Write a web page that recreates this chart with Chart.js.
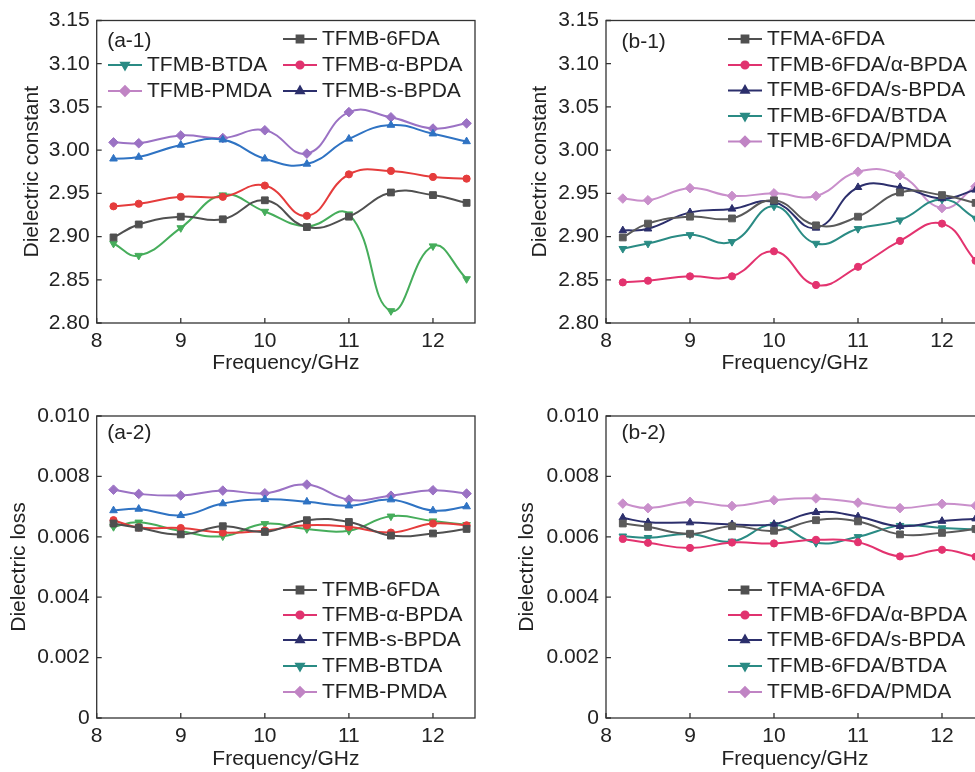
<!DOCTYPE html>
<html>
<head>
<meta charset="utf-8">
<script src="https://cdn.jsdelivr.net/npm/chart.js@4.4.1/dist/chart.umd.min.js"></script>
<style>
  html, body { margin: 0; padding: 0; background: #fff; overflow: hidden; width: 975px; height: 772px; }
  canvas { position: absolute; }
</style>
</head>
<body>
<canvas id="a1" width="490" height="376" style="left:0;top:0"></canvas>
<canvas id="b1" width="490" height="376" style="left:510px;top:0"></canvas>
<canvas id="a2" width="490" height="377" style="left:0;top:395px"></canvas>
<canvas id="b2" width="490" height="377" style="left:510px;top:395px"></canvas>
<script>
// frequency points (GHz) and axis ticks
const freq = [8.2, 8.5, 9, 9.5, 10, 10.5, 11, 11.5, 12, 12.4];
const xTicks = [8, 9, 10, 11, 12];
const constTicks = [2.80, 2.85, 2.90, 2.95, 3.00, 3.05, 3.10, 3.15];
const lossTicks = [0, 0.002, 0.004, 0.006, 0.008, 0.010];

const namesA = ['TFMB-6FDA', 'TFMB-α-BPDA', 'TFMB-s-BPDA', 'TFMB-BTDA', 'TFMB-PMDA'];
const namesB = ['TFMA-6FDA', 'TFMB-6FDA/α-BPDA', 'TFMB-6FDA/s-BPDA', 'TFMB-6FDA/BTDA', 'TFMB-6FDA/PMDA'];

// dielectric constant
const a1_6FDA  = [2.899, 2.914, 2.923, 2.920, 2.942, 2.911, 2.923, 2.951, 2.948, 2.939];
const a1_aBPDA = [2.935, 2.938, 2.946, 2.946, 2.959, 2.924, 2.972, 2.976, 2.969, 2.967];
const a1_sBPDA = [2.990, 2.992, 3.006, 3.012, 2.990, 2.984, 3.013, 3.029, 3.019, 3.010];
const a1_BTDA  = [2.892, 2.878, 2.910, 2.948, 2.929, 2.912, 2.926, 2.814, 2.889, 2.851];
const a1_PMDA  = [3.009, 3.008, 3.017, 3.014, 3.023, 2.996, 3.044, 3.038, 3.025, 3.031];

const b1_6FDA  = [2.899, 2.915, 2.923, 2.921, 2.942, 2.913, 2.923, 2.951, 2.948, 2.939];
const b1_aBPDA = [2.847, 2.849, 2.854, 2.854, 2.883, 2.844, 2.865, 2.895, 2.915, 2.872];
const b1_sBPDA = [2.907, 2.909, 2.928, 2.932, 2.940, 2.910, 2.957, 2.957, 2.944, 2.954];
const b1_BTDA  = [2.886, 2.892, 2.902, 2.894, 2.935, 2.892, 2.909, 2.919, 2.943, 2.921];
const b1_PMDA  = [2.944, 2.942, 2.956, 2.947, 2.950, 2.947, 2.975, 2.971, 2.933, 2.958];

// dielectric loss
const a2_6FDA  = [0.00644, 0.00630, 0.00608, 0.00635, 0.00616, 0.00655, 0.00649, 0.00604, 0.00611, 0.00626];
const a2_aBPDA = [0.00655, 0.00631, 0.00629, 0.00614, 0.00621, 0.00638, 0.00633, 0.00614, 0.00644, 0.00638];
const a2_sBPDA = [0.00687, 0.00692, 0.00671, 0.00710, 0.00724, 0.00716, 0.00703, 0.00723, 0.00687, 0.00700];
const a2_BTDA  = [0.00633, 0.00648, 0.00619, 0.00602, 0.00643, 0.00626, 0.00620, 0.00668, 0.00652, 0.00640];
const a2_PMDA  = [0.00756, 0.00742, 0.00737, 0.00753, 0.00744, 0.00773, 0.00723, 0.00736, 0.00754, 0.00743];

const b2_6FDA  = [0.00644, 0.00633, 0.00610, 0.00635, 0.00620, 0.00655, 0.00651, 0.00608, 0.00613, 0.00626];
const b2_aBPDA = [0.00593, 0.00580, 0.00563, 0.00581, 0.00578, 0.00590, 0.00582, 0.00535, 0.00557, 0.00534];
const b2_sBPDA = [0.00663, 0.00648, 0.00647, 0.00641, 0.00642, 0.00681, 0.00667, 0.00635, 0.00652, 0.00660];
const b2_BTDA  = [0.00602, 0.00597, 0.00609, 0.00585, 0.00640, 0.00580, 0.00600, 0.00637, 0.00629, 0.00624];
const b2_PMDA  = [0.00710, 0.00695, 0.00716, 0.00702, 0.00721, 0.00727, 0.00713, 0.00695, 0.00709, 0.00703];

// styling
const markers = [
  { style: 'rect', rot: 0, r: 4.8 },
  { style: 'circle', rot: 0, r: 3.6 },
  { style: 'triangle', rot: 0, r: 4.4 },
  { style: 'triangle', rot: 180, r: 4.4 },
  { style: 'rectRot', rot: 0, r: 4.8 }
];
const keyColors = ['#505050', '#e0336f', '#2c2f6c', '#2a8b84', '#c084c4'];
const lineColorsA = ['#505050', '#e53c3c', '#2f73c3', '#46ad5b', '#9b72c4'];
const lineColorsB = ['#5a5a5a', '#e3336f', '#2c2f6c', '#2a8b84', '#c98fcb'];
const ink = '#222';

Chart.defaults.font.family = '"Liberation Sans", Arial, sans-serif';
Chart.defaults.font.size = 21;
Chart.defaults.color = ink;

// frame, inward ticks, panel tag and hand-placed legend
const panelDecor = {
  id: 'panelDecor',
  afterDraw(chart) {
    const p = chart.options.plugins.panelDecor;
    const { ctx, chartArea: a, scales } = chart;
    ctx.save();
    ctx.strokeStyle = '#333';
    ctx.lineWidth = 1.3;
    ctx.strokeRect(a.left, a.top, a.right - a.left, a.bottom - a.top);
    ctx.beginPath();
    scales.x.ticks.forEach(t => {
      const px = scales.x.getPixelForValue(t.value);
      ctx.moveTo(px, a.bottom); ctx.lineTo(px, a.bottom - 5);
    });
    scales.y.ticks.forEach(t => {
      const py = scales.y.getPixelForValue(t.value);
      ctx.moveTo(a.left, py); ctx.lineTo(a.left + 5, py);
    });
    ctx.stroke();

    ctx.fillStyle = ink;
    ctx.font = '21px "Liberation Sans", Arial, sans-serif';
    ctx.textBaseline = 'middle';
    ctx.textAlign = 'left';
    ctx.fillText(p.tag, a.left + p.tagPos[0], a.top + p.tagPos[1]);

    chart.data.datasets.forEach((ds, i) => {
      const [x0, y] = p.keys[i];
      const m = markers[i];
      ctx.strokeStyle = keyColors[i];
      ctx.fillStyle = keyColors[i];
      ctx.lineWidth = 2;
      ctx.beginPath();
      ctx.moveTo(x0, y); ctx.lineTo(x0 + 34, y);
      ctx.stroke();
      Chart.helpers.drawPoint(ctx, { pointStyle: m.style, rotation: m.rot, radius: m.r, borderWidth: 1 }, x0 + 17, y);
      ctx.fillStyle = ink;
      ctx.fillText(ds.label, x0 + 39, y);
    });
    ctx.restore();
  }
};

function makePanel(id, cfg) {
  const datasets = cfg.series.map((s, i) => ({
    label: cfg.names[i],
    data: freq.map((f, j) => ({ x: f, y: s[j] })),
    borderColor: cfg.lineColors[i],
    backgroundColor: cfg.lineColors[i],
    borderWidth: 2,
    pointStyle: markers[i].style,
    pointRotation: markers[i].rot,
    pointRadius: markers[i].r,
    pointBorderWidth: 1,
    tension: 0.45
  }));
  return new Chart(document.getElementById(id), {
    type: 'line',
    data: { datasets },
    options: {
      responsive: false,
      animation: false,
      layout: { padding: { top: cfg.padTop, right: cfg.padRight, left: 0, bottom: 0 } },
      plugins: {
        legend: { display: false },
        tooltip: { enabled: false },
        panelDecor: { tag: cfg.tag, tagPos: cfg.tagPos, keys: cfg.keys }
      },
      scales: {
        x: {
          type: 'linear', min: 8, max: 12.5,
          afterBuildTicks: s => { s.ticks = xTicks.map(v => ({ value: v })); },
          afterFit: s => { s.height = cfg.xHeight; },
          grid: { display: false, drawTicks: false },
          border: { display: false },
          ticks: { padding: 6, color: ink, maxRotation: 0, callback: v => String(v) },
          title: { display: true, text: 'Frequency/GHz', color: ink, padding: 0 }
        },
        y: {
          type: 'linear', min: cfg.yTicks[0], max: cfg.yTicks[cfg.yTicks.length - 1],
          afterBuildTicks: s => { s.ticks = cfg.yTicks.map(v => ({ value: v })); },
          afterFit: s => { s.width = cfg.yWidth; },
          grid: { display: false, drawTicks: false },
          border: { display: false },
          ticks: { padding: 7, color: ink, callback: v => v === 0 ? '0' : v.toFixed(cfg.digits) },
          title: { display: true, text: cfg.yTitle, color: ink, padding: { top: cfg.yTitlePad, bottom: 0 } }
        }
      }
    },
    plugins: [panelDecor]
  });
}

makePanel('a1', {
  names: namesA, lineColors: lineColorsA,
  series: [a1_6FDA, a1_aBPDA, a1_sBPDA, a1_BTDA, a1_PMDA],
  yTicks: constTicks, digits: 2, yTitle: 'Dielectric constant',
  padTop: 20.5, padRight: 15, xHeight: 53, yWidth: 96.7, yTitlePad: 19.4,
  tag: '(a-1)', tagPos: [10.5, 21],
  keys: [[283, 39], [283, 65], [283, 91], [108, 65], [108, 91]]
});

makePanel('b1', {
  names: namesB, lineColors: lineColorsB,
  series: [b1_6FDA, b1_aBPDA, b1_sBPDA, b1_BTDA, b1_PMDA],
  yTicks: constTicks, digits: 2, yTitle: 'Dielectric constant',
  padTop: 20.5, padRight: 16, xHeight: 53, yWidth: 96, yTitlePad: 17.4,
  tag: '(b-1)', tagPos: [15.5, 22],
  keys: [[218, 39], [218, 65], [218, 90.5], [218, 116], [218, 141.5]]
});

makePanel('a2', {
  names: namesA, lineColors: lineColorsA,
  series: [a2_6FDA, a2_aBPDA, a2_sBPDA, a2_BTDA, a2_PMDA],
  yTicks: lossTicks, digits: 3, yTitle: 'Dielectric loss',
  padTop: 21, padRight: 15, xHeight: 54, yWidth: 96.7, yTitlePad: 6.5,
  tag: '(a-2)', tagPos: [10.5, 17],
  keys: [[283, 195], [283, 220], [283, 245], [283, 271], [283, 297]]
});

makePanel('b2', {
  names: namesB, lineColors: lineColorsB,
  series: [b2_6FDA, b2_aBPDA, b2_sBPDA, b2_BTDA, b2_PMDA],
  yTicks: lossTicks, digits: 3, yTitle: 'Dielectric loss',
  padTop: 21, padRight: 16, xHeight: 54, yWidth: 96, yTitlePad: 4.4,
  tag: '(b-2)', tagPos: [15.5, 17],
  keys: [[218, 195], [218, 220], [218, 245], [218, 271], [218, 297]]
});
</script>
</body>
</html>
